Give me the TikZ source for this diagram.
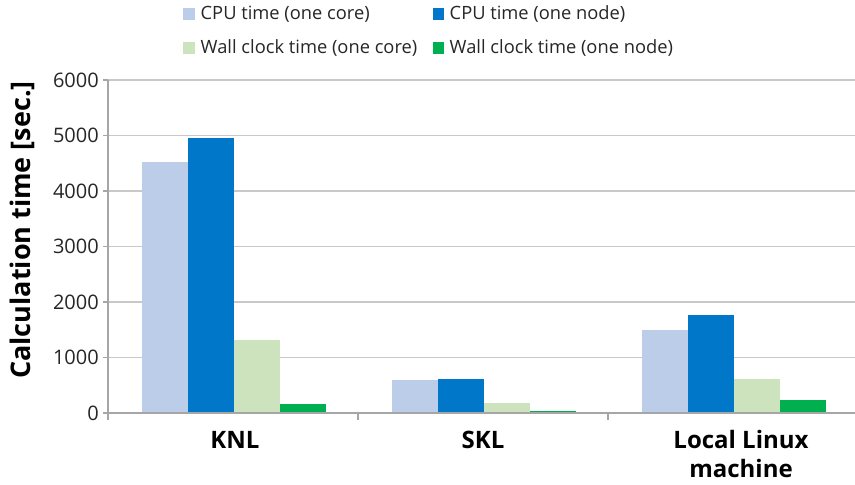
\documentclass[tikz,border=0pt]{standalone}
\usepackage{fontspec}
\setmainfont{Open Sans}
\definecolor{cpucore}{HTML}{BCCDEA}
\definecolor{cpunode}{HTML}{0077C8}
\definecolor{wallcore}{HTML}{CCE3BE}
\definecolor{wallnode}{HTML}{00B050}
\definecolor{gridc}{HTML}{C8C8C8}
\definecolor{axisc}{HTML}{A6A6A6}
\tikzset{
  gridline/.style={draw=gridc, line width=1.2pt},
  axisline/.style={draw=axisc, line width=1.2pt},
  ticklab/.style={anchor=east, inner sep=0pt, font=\fontsize{20}{24}\selectfont, text=black!85},
  catlab/.style={anchor=base, inner sep=0pt, font=\fontsize{24}{29}\selectfont\bfseries, align=center},
  leglab/.style={anchor=west, inner sep=0pt, font=\fontsize{18.3}{22}\selectfont, text=black!85},
  legbox/.style={minimum size=11.5pt, inner sep=0pt},
}
\begin{document}
\begin{tikzpicture}[x=1pt,y=-1pt]
\useasboundingbox[fill=white] (0,0) rectangle (855,485);
% gridlines
\foreach \v in {1,...,6} {
  \draw[gridline] (108,{413-55.5*\v}) -- (855,{413-55.5*\v});
}
% bars: category start x, gap 33.7, bar width 46
\def\barw{46}
\newcommand{\bars}[5]{%
  \fill[cpucore]  ({#1+33.7},413) rectangle ({#1+33.7+\barw},{413-0.0555*#2});
  \fill[cpunode]  ({#1+33.7+\barw},413) rectangle ({#1+33.7+2*\barw},{413-0.0555*#3});
  \fill[wallcore] ({#1+33.7+2*\barw},413) rectangle ({#1+33.7+3*\barw},{413-0.0555*#4});
  \fill[wallnode] ({#1+33.7+3*\barw},413) rectangle ({#1+33.7+4*\barw},{413-0.0555*#5});
}
\bars{108}{4528}{4960}{1315}{157}
\bars{358}{595}{612}{186}{41}
\bars{608}{1495}{1765}{612}{234}
% axes
\draw[axisline] (108,413) -- (855,413);
\draw[axisline] (108,80) -- (108,420);
\foreach \v in {0,...,6} {
  \draw[axisline] (103,{413-55.5*\v}) -- (108,{413-55.5*\v});
}
\foreach \x in {358,608} { \draw[axisline] (\x,413) -- (\x,420); }
% tick labels
\node[ticklab] (t0) at (99,413) {0};
\node[ticklab] (t1) at (99,357.5) {1000};
\node[ticklab] (t2) at (99,302) {2000};
\node[ticklab] (t3) at (99,246.5) {3000};
\node[ticklab] (t4) at (99,191) {4000};
\node[ticklab] (t5) at (99,135.5) {5000};
\node[ticklab] (t6) at (99,80) {6000};
% axis title
\node[rotate=90, inner sep=0pt, font=\fontsize{27}{32}\selectfont\bfseries] (ytitle) at (22,230) {Calculation time [sec.]};
% category labels
\node[catlab] (knl) at (235,448) {KNL};
\node[catlab] (skl) at (483,448) {SKL};
\node[catlab] (loc) at (741,477) {Local Linux\\machine};
% legend
\node[legbox, fill=cpucore] (lb1) at (189,14) {};
\node[leglab] (ll1) at (200.5,14) {CPU time (one core)};
\node[legbox, fill=cpunode] (lb2) at (438.5,14) {};
\node[leglab] (ll2) at (449.5,14) {CPU time (one node)};
\node[legbox, fill=wallcore] (lb3) at (189,48) {};
\node[leglab] (ll3) at (200.5,48) {Wall clock time (one core)};
\node[legbox, fill=wallnode] (lb4) at (438.5,48) {};
\node[leglab] (ll4) at (449.5,48) {Wall clock time (one node)};
\end{tikzpicture}
\end{document}
